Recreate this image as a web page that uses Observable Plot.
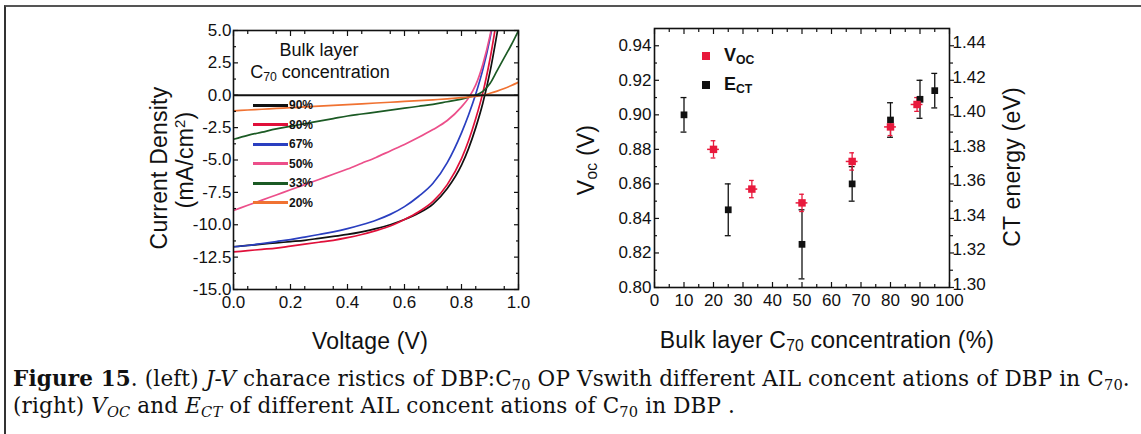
<!DOCTYPE html>
<html><head><meta charset="utf-8">
<script src="https://cdn.jsdelivr.net/npm/d3@7"></script>
<script src="https://cdn.jsdelivr.net/npm/@observablehq/plot@0.6"></script>
<style>
html,body{margin:0;padding:0;background:#fff;}
#wrap{position:relative;width:1141px;height:434px;overflow:hidden;font-family:"Liberation Sans",Arial,sans-serif;color:#111;background:#fff;}
.abs{position:absolute;white-space:nowrap;line-height:1;}
.rot{transform:translate(-50%,-50%) rotate(-90deg);}
.ctr{transform:translate(-50%,-50%);}
.title{font-size:23px;letter-spacing:0.2px;}
#border{position:absolute;left:4px;top:5px;width:1200px;height:500px;border-left:2px solid #333;border-top:2px solid #555;}
#cap{position:absolute;left:13px;top:365px;font-family:"DejaVu Serif","Liberation Serif",serif;font-size:21.5px;line-height:27px;color:#111;white-space:nowrap;letter-spacing:0.15px;}
sub{font-size:0.68em;vertical-align:-0.25em;line-height:0;}
.plotbox{position:absolute;top:0;}
</style></head>
<body>
<div id="wrap">
  <div id="border"></div>
  <div id="leftPlot" class="plotbox" style="left:0px"></div>
  <div id="rightPlot" class="plotbox" style="left:560px"></div>

  <div class="abs rot title" style="left:159px;top:168px">Current Density</div>
  <div class="abs rot title" style="left:185px;top:160px">(mA/cm<sup style="font-size:0.65em">2</sup>)</div>
  <div class="abs ctr title" style="left:370px;top:341px">Voltage (V)</div>

  <div class="abs ctr" style="left:319px;top:50px;font-size:18px">Bulk layer</div>
  <div class="abs ctr" style="left:320px;top:72px;font-size:18px">C<sub>70</sub> concentration</div>
  <div id="leftLegend"></div>

  <div class="abs rot title" style="left:586px;top:160px">V<sub>oc</sub> (V)</div>
  <div class="abs rot title" style="left:1012px;top:167px">CT energy (eV)</div>
  <div class="abs ctr title" style="left:827px;top:340px">Bulk layer C<sub>70</sub> concentration (%)</div>

  <div class="abs" style="left:702px;top:52px;width:8px;height:8px;background:#e8193c"></div>
  <div class="abs" style="left:724px;top:46px;font-size:18px;font-weight:bold">V<sub>OC</sub></div>
  <div class="abs" style="left:702px;top:81px;width:8px;height:8px;background:#111"></div>
  <div class="abs" style="left:724px;top:75px;font-size:18px;font-weight:bold">E<sub>CT</sub></div>

  <div id="cap"><b>Figure 15</b>. (left) <i>J-V</i> charace ristics of DBP:C<sub>70</sub> OP Vswith different AIL concent ations of DBP in C<sub>70</sub>.<br>(right) <i>V<sub>OC</sub></i> and <i>E<sub>CT</sub></i> of different AIL concent ations of C<sub>70</sub> in DBP .</div>
</div>
<script>
// ---------- Left panel: J-V curves ----------
const voltage = [0, 0.05, 0.1, 0.15, 0.2, 0.25, 0.3, 0.35, 0.4, 0.45, 0.5, 0.55, 0.6, 0.65, 0.7, 0.75, 0.8, 0.825, 0.85, 0.875, 0.9, 0.925, 0.95, 0.975, 1.0];
const j90 = [-11.7,-11.6,-11.5,-11.4,-11.3,-11.2,-11.05,-10.9,-10.75,-10.55,-10.3,-10.0,-9.6,-9.1,-8.4,-7.2,-5.4,-4.1,-2.5,-0.6,1.8,4.8,8.0,11,14];
const j80 = [-12.1,-12.0,-11.9,-11.8,-11.65,-11.5,-11.35,-11.2,-11.0,-10.75,-10.45,-10.1,-9.6,-9.0,-8.2,-6.9,-4.9,-3.5,-1.8,0.2,2.8,6.0,9,12,15];
const j67 = [-11.7,-11.6,-11.45,-11.3,-11.15,-10.95,-10.75,-10.55,-10.3,-10.0,-9.65,-9.2,-8.6,-7.8,-6.8,-5.2,-2.9,-1.5,0.1,2.0,4.4,7.5,11,14,17];
const j50 = [-8.9,-8.5,-8.1,-7.7,-7.3,-6.9,-6.5,-6.1,-5.7,-5.25,-4.8,-4.3,-3.8,-3.25,-2.65,-1.95,-0.9,-0.2,0.8,2.4,4.6,7.5,10.5,13,16];
const j33 = [-3.4,-3.1,-2.85,-2.6,-2.4,-2.2,-2.0,-1.8,-1.6,-1.45,-1.3,-1.15,-1.0,-0.85,-0.7,-0.5,-0.3,-0.15,0.0,0.3,0.9,1.9,2.9,3.9,5.0];
const j20 = [-1.2,-1.14,-1.08,-1.02,-0.96,-0.9,-0.84,-0.78,-0.72,-0.66,-0.6,-0.54,-0.48,-0.42,-0.35,-0.28,-0.19,-0.14,-0.08,0.0,0.15,0.32,0.52,0.75,1.0];
const seriesLabels = ["90%", "80%", "67%", "50%", "33%", "20%"];
const seriesColors = ["#111111", "#e0103a", "#2a3fc0", "#ec4f8a", "#1b5a24", "#f07232"];
const xTicksL = [0, 0.2, 0.4, 0.6, 0.8, 1.0];
const yTicksL = [-15, -12.5, -10, -7.5, -5, -2.5, 0, 2.5, 5];

// ---------- Right panel: Voc and E_CT ----------
const concVoc = [20, 33, 50, 67, 80, 89];
const voc = [0.880, 0.857, 0.849, 0.873, 0.893, 0.906];
const vocErr = [0.005, 0.005, 0.005, 0.005, 0.005, 0.004];
const concEct = [10, 25, 50, 67, 80, 90, 95];
const ect = [1.400, 1.345, 1.325, 1.360, 1.397, 1.409, 1.414];
const ectErr = [0.010, 0.015, 0.020, 0.010, 0.010, 0.011, 0.010];
const xTicksR = [0, 10, 20, 30, 40, 50, 60, 70, 80, 90, 100];
const yTicksR = [0.80, 0.82, 0.84, 0.86, 0.88, 0.90, 0.92, 0.94];
const ectOffset = 0.5; // right axis (eV) = left axis (V) + 0.5

const curves = [j90, j80, j67, j50, j33, j20];
const jvRows = [];
seriesLabels.forEach((s, i) => voltage.forEach((v, k) => jvRows.push({s, v, j: curves[i][k]})));

const half = arr => arr.slice(0, -1).map((d, i) => (d + arr[i + 1]) / 2);
const quarter = arr => { const h = half(arr); const all = [...arr, ...h].sort((a,b)=>a-b); return half(all); };

const tickStyle = {fill: "none", label: null, stroke: "#111", strokeWidth: 1.2};
const baseStyle = {background: "transparent", fontFamily: "'Liberation Sans', Arial, sans-serif", fontSize: "17px", color: "#111", overflow: "visible"};

const left = Plot.plot({
  width: 560, height: 330,
  marginLeft: 233, marginRight: 42, marginTop: 30, marginBottom: 41,
  style: baseStyle,
  x: {domain: [0, 1]},
  y: {domain: [-15, 5]},
  color: {domain: seriesLabels, range: seriesColors},
  marks: [
    Plot.line(jvRows, {x: "v", y: "j", z: "s", stroke: "s", strokeWidth: 1.7, curve: "monotone-x", clip: true}),
    Plot.ruleY([0], {stroke: "#111", strokeWidth: 2}),
    Plot.frame({stroke: "#111", strokeWidth: 1.6}),
    Plot.axisX(xTicksL, {anchor: "bottom", tickSize: -5, ...tickStyle}),
    Plot.axisX(quarter(xTicksL), {anchor: "bottom", tickSize: -3, ...tickStyle}),
    Plot.axisX(xTicksL, {anchor: "top", tickSize: -5, ...tickStyle}),
    Plot.axisX(quarter(xTicksL), {anchor: "top", tickSize: -3, ...tickStyle}),
    Plot.axisY(yTicksL, {anchor: "left", tickSize: -5, ...tickStyle}),
    Plot.axisY(half(yTicksL), {anchor: "left", tickSize: -3, ...tickStyle}),
    Plot.axisY(yTicksL, {anchor: "right", tickSize: -5, ...tickStyle}),
    Plot.axisY(half(yTicksL), {anchor: "right", tickSize: -3, ...tickStyle}),
    Plot.axisX(xTicksL, {anchor: "bottom", tickSize: 0, tickPadding: 6, tickFormat: d => d.toFixed(1), label: null}),
    Plot.axisY(yTicksL, {anchor: "left", tickSize: 0, tickPadding: 2, tickFormat: d => d.toFixed(1), label: null})
  ]
});
document.getElementById("leftPlot").appendChild(left);

const vocRows = concVoc.map((c, i) => ({c, y: voc[i], e: vocErr[i]}));
const ectRows = concEct.map((c, i) => ({c, y: ect[i] - ectOffset, e: ectErr[i]}));
const red = "#e8193c";

const right = Plot.plot({
  width: 581, height: 330,
  marginLeft: 94, marginRight: 192, marginTop: 28, marginBottom: 43,
  style: baseStyle,
  x: {domain: [0, 100]},
  y: {domain: [0.80, 0.95]},
  marks: [
    Plot.ruleX(ectRows, {x: "c", y1: d => d.y - d.e, y2: d => d.y + d.e, stroke: "#111", strokeWidth: 1.3}),
    Plot.ruleY(ectRows, {y: d => d.y - d.e, x1: d => d.c - 1, x2: d => d.c + 1, stroke: "#111", strokeWidth: 1.3}),
    Plot.ruleY(ectRows, {y: d => d.y + d.e, x1: d => d.c - 1, x2: d => d.c + 1, stroke: "#111", strokeWidth: 1.3}),
    Plot.ruleX(vocRows, {x: "c", y1: d => d.y - d.e, y2: d => d.y + d.e, stroke: red, strokeWidth: 1.3}),
    Plot.ruleY(vocRows, {y: d => d.y - d.e, x1: d => d.c - 0.8, x2: d => d.c + 0.8, stroke: red, strokeWidth: 1.3}),
    Plot.ruleY(vocRows, {y: d => d.y + d.e, x1: d => d.c - 0.8, x2: d => d.c + 0.8, stroke: red, strokeWidth: 1.3}),
    Plot.ruleY(vocRows, {y: "y", x1: d => d.c - 2, x2: d => d.c + 2, stroke: red, strokeWidth: 1.5}),
    Plot.dot(ectRows, {x: "c", y: "y", symbol: "square", r: 3.8, fill: "#111", stroke: "none"}),
    Plot.dot(vocRows, {x: "c", y: "y", symbol: "square", r: 4.2, fill: red, stroke: "none"}),
    Plot.frame({stroke: "#111", strokeWidth: 1.6}),
    Plot.axisX(xTicksR, {anchor: "bottom", tickSize: -5, ...tickStyle}),
    Plot.axisX(half(xTicksR), {anchor: "bottom", tickSize: -3, ...tickStyle}),
    Plot.axisX(xTicksR, {anchor: "top", tickSize: -5, ...tickStyle}),
    Plot.axisX(half(xTicksR), {anchor: "top", tickSize: -3, ...tickStyle}),
    Plot.axisY(yTicksR, {anchor: "left", tickSize: -5, ...tickStyle}),
    Plot.axisY(half(yTicksR), {anchor: "left", tickSize: -3, ...tickStyle}),
    Plot.axisY(yTicksR, {anchor: "right", tickSize: 4, ...tickStyle}),
    Plot.axisY(half(yTicksR), {anchor: "right", tickSize: 3, ...tickStyle}),
    Plot.axisX(xTicksR, {anchor: "bottom", tickSize: 0, tickPadding: 6, tickFormat: d => String(d), label: null}),
    Plot.axisY(yTicksR, {anchor: "left", tickSize: 0, tickPadding: 3, tickFormat: d => d.toFixed(2), label: null}),
    Plot.axisY(yTicksR, {anchor: "right", tickSize: 0, tickPadding: 3, dy: -3, tickFormat: d => (d + ectOffset).toFixed(2), label: null})
  ]
});
document.getElementById("rightPlot").appendChild(right);

// left legend (line samples + labels)
const lg = document.getElementById("leftLegend");
seriesLabels.forEach((s, i) => {
  const y = 105 + i * 19.5;
  const ln = document.createElement("div");
  ln.className = "abs";
  ln.style.cssText = `left:253px;top:${y - 1.5}px;width:35px;height:3px;background:${seriesColors[i]}`;
  lg.appendChild(ln);
  const t = document.createElement("div");
  t.className = "abs";
  t.style.cssText = `left:289px;top:${y - 6}px;font-size:12px;font-weight:bold;`;
  t.textContent = s;
  lg.appendChild(t);
});
</script>
</body></html>
